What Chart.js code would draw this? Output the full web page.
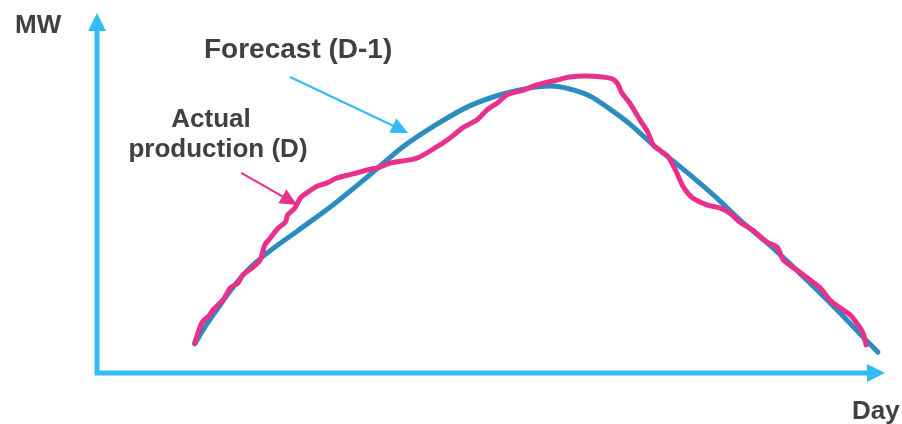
<!DOCTYPE html>
<html>
<head>
<meta charset="utf-8">
<script src="https://cdn.jsdelivr.net/npm/chart.js@4.4.1/dist/chart.umd.min.js"></script>
<style>
  html, body { margin: 0; padding: 0; background: #fff; }
  #wrap { width: 902px; height: 424px; position: relative; }
</style>
</head>
<body>
<div id="wrap"><canvas id="prod"></canvas></div>
<script>
// forecast made the day before (D-1), time of day vs MW (relative units)
const forecastX = [12.4, 13.7, 15.0, 16.9, 19.0, 21.3, 25.4, 29.6, 34.6, 38.8, 43.2, 47.3, 51.5, 55.0, 57.5,
                   60.0, 62.6, 65.1, 67.6, 70.6, 73.1, 75.6, 78.7, 81.6, 85.8, 90.1, 94.3, 97.2, 99.1];
const forecastY = [8.1, 12.8, 16.9, 22.8, 28.3, 32.8, 39.4, 46.1, 55.0, 62.8, 69.2, 74.2, 77.5, 79.2, 79.7,
                   78.9, 76.9, 73.3, 69.2, 63.3, 58.9, 54.4, 48.5, 42.5, 34.7, 25.8, 16.7, 10.0, 5.8];

// measured production on the day (D)
const actualX = [12.4, 13.3, 14.3, 14.7, 16.0, 16.9, 17.9, 18.5, 19.7, 20.7, 21.3, 22.0, 23.0, 23.9, 24.2,
                 25.1, 25.8, 26.8, 27.9, 29.2, 30.5, 32.5, 34.3, 35.9, 37.2, 40.6, 43.1, 44.8, 46.4, 48.2,
                 49.5, 50.8, 52.0, 54.1, 55.8, 58.4, 60.0, 61.9, 65.1, 66.0, 66.6, 67.6, 68.9, 69.9, 70.6,
                 71.4, 72.5, 73.4, 74.4, 75.6, 77.4, 79.1, 80.3, 81.6, 83.2, 85.0, 86.3, 87.1, 88.8, 90.5,
                 91.8, 93.0, 94.3, 95.6, 96.4, 97.2, 97.6];
const actualY = [8.3, 13.9, 16.1, 17.5, 20.3, 23.6, 25.0, 27.2, 29.2, 31.4, 35.6, 37.5, 40.3, 41.9, 43.9,
                 45.8, 48.6, 50.3, 51.9, 52.8, 54.2, 55.3, 56.4, 57.2, 58.3, 59.7, 62.8, 65.3, 68.1, 70.3,
                 73.1, 75.0, 77.2, 78.6, 80.0, 81.4, 82.2, 82.5, 81.9, 80.6, 77.8, 75.0, 70.3, 66.9, 63.3,
                 61.9, 60.0, 56.4, 51.7, 48.6, 46.7, 45.8, 44.4, 41.9, 39.7, 36.4, 35.0, 31.4, 28.6, 25.8,
                 23.6, 20.3, 18.1, 16.1, 13.9, 11.1, 7.8];

// callout arrows: [fromX, fromY, toX, toY] in data units
const forecastArrow = [24.5, 82.2, 39.5, 66.7];
const actualArrow = [18.3, 55.6, 25.4, 46.7];

const AXIS_COLOR = '#33bbf8';
const FORECAST_COLOR = '#2a8cbf';
const ACTUAL_COLOR = '#e8318a';
const TEXT_COLOR = '#404040';

function toPoints(xs, ys) {
  return xs.map((x, i) => ({ x: x, y: ys[i] }));
}

function arrowHead(ctx, x1, y1, x2, y2, len, half) {
  const a = Math.atan2(y2 - y1, x2 - x1);
  ctx.beginPath();
  ctx.moveTo(x2, y2);
  ctx.lineTo(x2 - len * Math.cos(a) + half * Math.sin(a), y2 - len * Math.sin(a) - half * Math.cos(a));
  ctx.lineTo(x2 - len * Math.cos(a) - half * Math.sin(a), y2 - len * Math.sin(a) + half * Math.cos(a));
  ctx.closePath();
  ctx.fill();
}

// arrowed axes, drawn under the curves
const axesPlugin = {
  id: 'arrowAxes',
  beforeDatasetsDraw(chart) {
    const { ctx, chartArea: a } = chart;
    ctx.save();
    ctx.strokeStyle = AXIS_COLOR;
    ctx.fillStyle = AXIS_COLOR;
    ctx.lineWidth = 5;
    ctx.beginPath();
    ctx.moveTo(a.left, a.top + 14);
    ctx.lineTo(a.left, a.bottom);
    ctx.lineTo(a.right - 14, a.bottom);
    ctx.stroke();
    arrowHead(ctx, a.left, a.bottom, a.left, a.top, 18, 9);
    arrowHead(ctx, a.left, a.bottom, a.right, a.bottom, 18, 9);
    ctx.restore();
  }
};

// axis titles and callouts
const labelsPlugin = {
  id: 'callouts',
  afterDatasetsDraw(chart) {
    const { ctx, scales: { x, y } } = chart;
    ctx.save();
    ctx.fillStyle = TEXT_COLOR;
    ctx.textBaseline = 'alphabetic';
    ctx.font = 'bold 26px "Liberation Sans", Arial, sans-serif';
    ctx.textAlign = 'left';
    ctx.fillText('MW', 15, 33);
    ctx.fillText('Day', 852, 419);
    ctx.font = 'bold 28px "Liberation Sans", Arial, sans-serif';
    ctx.fillText('Forecast (D-1)', 204, 58);
    ctx.textAlign = 'center';
    ctx.font = 'bold 26px "Liberation Sans", Arial, sans-serif';
    ctx.fillText('Actual', 211, 127);
    ctx.fillText('production (D)', 218, 157);

    const arrows = [[forecastArrow, AXIS_COLOR], [actualArrow, ACTUAL_COLOR]];
    arrows.forEach(([p, color]) => {
      const x1 = x.getPixelForValue(p[0]), y1 = y.getPixelForValue(p[1]);
      const x2 = x.getPixelForValue(p[2]), y2 = y.getPixelForValue(p[3]);
      const a = Math.atan2(y2 - y1, x2 - x1);
      ctx.strokeStyle = color;
      ctx.fillStyle = color;
      ctx.lineWidth = 2.2;
      ctx.beginPath();
      ctx.moveTo(x1, y1);
      ctx.lineTo(x2 - 12 * Math.cos(a), y2 - 12 * Math.sin(a));
      ctx.stroke();
      arrowHead(ctx, x1, y1, x2, y2, 17, 8);
    });
    ctx.restore();
  }
};

new Chart(document.getElementById('prod'), {
  type: 'line',
  data: {
    datasets: [
      {
        label: 'Actual production (D)',
        data: toPoints(actualX, actualY),
        borderColor: ACTUAL_COLOR,
        borderWidth: 5,
        tension: 0.25,
        borderCapStyle: 'round',
        borderJoinStyle: 'round',
        pointRadius: 0,
        clip: false,
        order: 0
      },
      {
        label: 'Forecast (D-1)',
        data: toPoints(forecastX, forecastY),
        borderColor: FORECAST_COLOR,
        borderWidth: 5,
        cubicInterpolationMode: 'monotone',
        borderCapStyle: 'round',
        borderJoinStyle: 'round',
        pointRadius: 0,
        clip: false,
        order: 1
      }
    ]
  },
  options: {
    responsive: true,
    maintainAspectRatio: false,
    animation: false,
    layout: { padding: { left: 97, right: 17, top: 13, bottom: 51 } },
    plugins: { legend: { display: false }, tooltip: { enabled: false } },
    scales: {
      x: { type: 'linear', min: 0, max: 100, display: false },
      y: { type: 'linear', min: 0, max: 100, display: false }
    }
  },
  plugins: [axesPlugin, labelsPlugin]
});
</script>
</body>
</html>
